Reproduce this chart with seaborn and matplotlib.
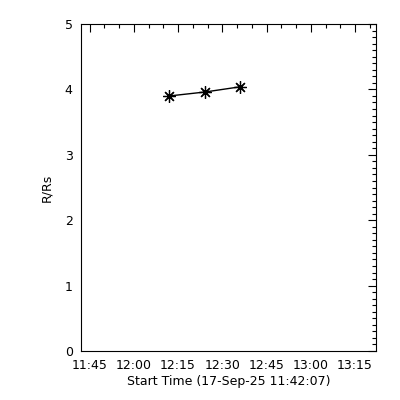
import pandas as pd
import matplotlib
matplotlib.use("Agg")
import matplotlib.pyplot as plt
import matplotlib.dates as mdates
from matplotlib.ticker import MultipleLocator
import seaborn as sns

# === Data ===
times = ["2025-09-17 12:12:07", "2025-09-17 12:24:07", "2025-09-17 12:36:07"]
heights = [3.90, 3.96, 4.04]
x_start = "2025-09-17 11:42:07"
x_end = "2025-09-17 13:22:07"

df = pd.DataFrame({"time": pd.to_datetime(times), "R/Rs": heights})

sns.set_theme(style="white")
plt.rcParams["font.family"] = ["DejaVu Sans"]
plt.rcParams["text.color"] = "black"
plt.rcParams["axes.labelcolor"] = "black"

fig = plt.figure(figsize=(4, 4), dpi=100)
ax = fig.add_axes([81 / 400, 49 / 400, 295 / 400, 327 / 400])

sns.lineplot(data=df, x="time", y="R/Rs", ax=ax, color="black", linewidth=1,
             marker=(8, 2, 0), markersize=9, markeredgecolor="black",
             markeredgewidth=0.9)

ax.set_xlim(pd.Timestamp(x_start), pd.Timestamp(x_end))
ax.set_ylim(0, 5)

ax.xaxis.set_major_locator(mdates.MinuteLocator(byminute=[0, 15, 30, 45]))
ax.xaxis.set_minor_locator(mdates.MinuteLocator(byminute=range(0, 60, 5)))
ax.xaxis.set_major_formatter(mdates.DateFormatter("%H:%M"))
ax.yaxis.set_major_locator(MultipleLocator(1))
ax.yaxis.set_minor_locator(MultipleLocator(0.1))

ax.tick_params(which="both", direction="in", top=True, right=True,
               colors="black", labelcolor="black", labelsize=9)
ax.tick_params(axis="x", pad=6)
ax.tick_params(axis="y", pad=6)
ax.tick_params(which="major", length=6, width=0.8)
ax.tick_params(which="minor", length=3, width=0.8)

for sp in ax.spines.values():
    sp.set_color("black")
    sp.set_linewidth(0.8)

ax.set_xlabel("Start Time (17-Sep-25 11:42:07)", fontsize=9, labelpad=2)
ax.set_ylabel("R/Rs", fontsize=9, labelpad=8)

fig.savefig("out.png", dpi=100, facecolor="white")
